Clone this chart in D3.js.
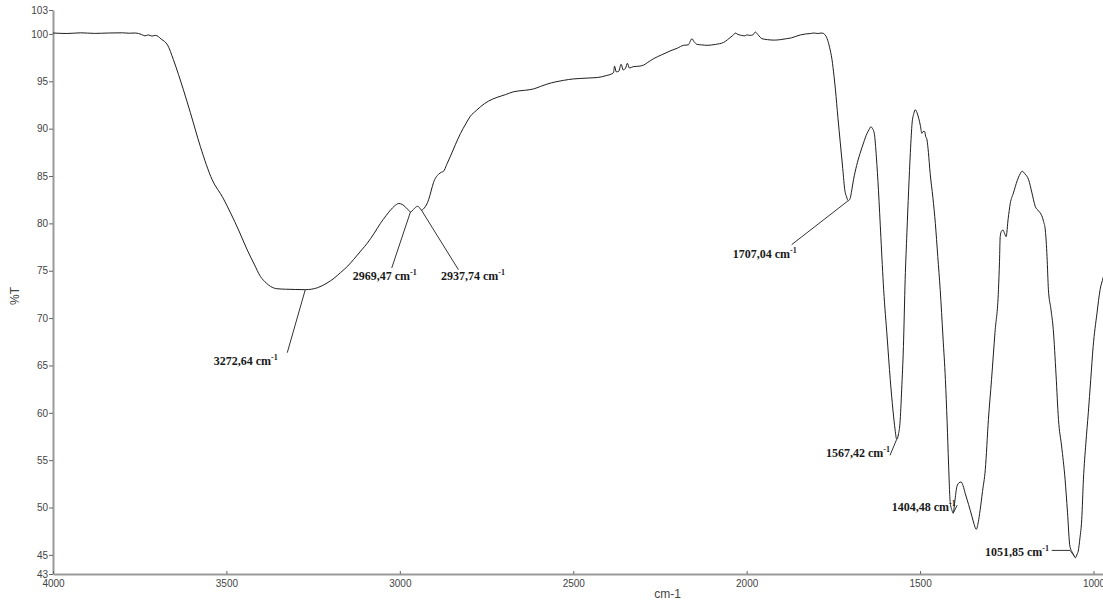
<!DOCTYPE html>
<html>
<head>
<meta charset="utf-8">
<script src="https://cdn.jsdelivr.net/npm/d3@7"></script>
<style>
  html, body { margin: 0; padding: 0; background: #fff; }
  svg { display: block; }
  .tick text { font-family: "Liberation Sans", Arial, sans-serif; font-size: 10px; fill: #444; }
  .callout text { font-family: "Liberation Serif", "Times New Roman", serif; font-weight: bold; font-size: 12px; fill: #1a1a1a; }
</style>
</head>
<body>
<svg id="chart" width="1103" height="606"></svg>
<script>
// IR spectrum: wavenumber (cm-1) and transmittance (%T)
const wavenumber = [
  4000, 3960, 3920, 3880, 3840, 3800, 3780, 3762, 3745, 3735, 3725, 3715, 3705, 3696, 3688, 3678,
  3670, 3653, 3638, 3624, 3604, 3575, 3541, 3510, 3488, 3465, 3440, 3420, 3402, 3385, 3373, 3354,
  3330, 3300, 3272.64, 3255, 3238, 3210, 3190, 3171, 3150, 3133, 3110, 3094, 3075, 3056, 3040, 3027,
  3015, 3003, 2993, 2983, 2975, 2969.47, 2960, 2949, 2943, 2937.74, 2930, 2917, 2910, 2903, 2888, 2880,
  2874, 2865, 2854, 2840, 2825, 2810, 2797, 2780, 2768, 2745, 2720, 2695, 2672, 2640, 2614, 2595,
  2576, 2550, 2528, 2500, 2480, 2455, 2431, 2405, 2384, 2381, 2376, 2369, 2362, 2356, 2349, 2344,
  2338, 2327, 2310, 2298, 2285, 2268, 2245, 2221, 2200, 2182, 2168, 2163, 2158, 2152, 2143, 2130,
  2114, 2090, 2067, 2055, 2045, 2038, 2033, 2025, 2015, 2005, 2000, 1990, 1982, 1975, 1968, 1961,
  1956, 1940, 1920, 1903, 1885, 1870, 1858, 1845, 1830, 1815, 1807, 1795, 1783, 1775, 1768, 1761,
  1754, 1748, 1744, 1737, 1730, 1723, 1717, 1712, 1707.04, 1702, 1697, 1692, 1683, 1673, 1663, 1653,
  1647, 1642, 1637, 1632, 1626, 1620, 1613, 1605, 1595, 1586, 1578, 1572, 1567.42, 1562, 1558, 1553,
  1548, 1543, 1538, 1533, 1528, 1523, 1518, 1514, 1509, 1504, 1499, 1495, 1491, 1487, 1484, 1480,
  1476, 1471, 1463, 1456, 1449, 1442, 1434, 1427, 1422, 1418, 1413, 1408, 1404.48, 1400, 1394, 1388,
  1382, 1376, 1370, 1360, 1350, 1344, 1338, 1332, 1327, 1320, 1312, 1303, 1294, 1284, 1274, 1271,
  1269, 1265, 1261, 1256, 1252, 1246, 1240, 1231, 1220, 1212, 1206, 1197, 1187, 1178, 1168, 1158,
  1149, 1144, 1139, 1134, 1130, 1123, 1116, 1108, 1101, 1092, 1082, 1075, 1068, 1060, 1051.85, 1047,
  1044, 1039, 1034, 1029, 1022, 1015, 1008, 1001, 990, 981, 972, 965
];
const transmittance = [
  100.10, 100.05, 100.12, 100.06, 100.10, 100.12, 100.08, 100.10, 99.95, 99.80, 99.90, 99.78, 99.85, 99.72, 99.45, 99.20,
  98.85, 97.30, 95.70, 94.10, 91.70, 88.10, 84.60, 82.70, 81.10, 79.30, 77.20, 75.70, 74.40, 73.70, 73.35, 73.10,
  73.05, 73.02, 73.00, 73.05, 73.20, 73.70, 74.20, 74.80, 75.50, 76.20, 77.20, 77.90, 78.90, 80.00, 80.80, 81.40,
  81.85, 82.10, 82.00, 81.70, 81.40, 81.20, 81.50, 81.80, 81.65, 81.40, 81.60, 82.50, 83.40, 84.30, 85.20, 85.40,
  85.50, 86.20, 87.10, 88.30, 89.50, 90.50, 91.30, 91.90, 92.30, 92.90, 93.30, 93.60, 93.90, 94.05, 94.20, 94.45,
  94.70, 94.95, 95.10, 95.25, 95.30, 95.35, 95.40, 95.60, 95.90, 96.60, 96.00, 96.05, 96.80, 96.20, 96.40, 96.90,
  96.40, 96.55, 96.60, 96.70, 97.00, 97.40, 97.80, 98.20, 98.50, 98.80, 98.85, 99.20, 99.50, 99.20, 98.90, 98.85,
  98.80, 98.90, 99.10, 99.40, 99.70, 99.90, 100.10, 99.95, 99.85, 99.80, 99.90, 99.85, 99.90, 100.20, 99.95, 99.65,
  99.50, 99.40, 99.35, 99.40, 99.50, 99.60, 99.75, 99.90, 100.00, 100.05, 100.10, 100.05, 100.10, 99.95, 99.50, 98.60,
  97.30, 95.50, 94.10, 91.20, 88.50, 85.80, 83.50, 82.80, 82.40, 82.60, 83.50, 84.60, 86.10, 87.40, 88.50, 89.50,
  89.90, 90.20, 90.00, 89.50, 87.00, 83.50, 78.50, 73.00, 68.00, 63.50, 60.20, 58.20, 57.20, 57.80, 58.90, 62.50,
  67.00, 74.10, 79.00, 83.50, 87.50, 90.60, 91.60, 92.00, 91.70, 91.10, 90.30, 89.50, 89.70, 89.70, 89.20, 88.80,
  87.50, 85.30, 82.70, 80.00, 76.50, 73.00, 68.00, 63.50, 59.00, 54.70, 50.50, 49.70, 49.40, 50.60, 52.20, 52.60,
  52.70, 52.30, 51.50, 50.30, 49.00, 48.20, 47.70, 48.50, 49.70, 51.70, 54.00, 59.30, 63.50, 68.50, 73.00, 76.00,
  78.60, 79.20, 79.30, 78.90, 78.60, 80.50, 82.10, 83.20, 84.50, 85.20, 85.50, 85.20, 84.60, 83.30, 81.80, 81.30,
  80.80, 80.20, 79.30, 76.50, 73.00, 71.00, 68.80, 64.00, 59.30, 56.50, 53.00, 49.50, 45.90, 45.20, 44.70, 45.10,
  45.40, 46.80, 48.70, 53.00, 56.80, 60.00, 63.50, 67.00, 70.50, 73.00, 74.30, 75.50
];

// Axis extents and ticks
const xDomain = [4000, 970];
const xTicks = [4000, 3500, 3000, 2500, 2000, 1500, 1000];
const yDomain = [42.98, 102.53];
const yTicks = [45, 50, 55, 60, 65, 70, 75, 80, 85, 90, 95, 100];
const xTitle = "cm-1";
const yTitle = "%T";

// Annotated band positions (cm-1)
const peakWavenumbers = [3272.64, 2969.47, 2937.74, 1707.04, 1567.42, 1404.48, 1051.85];

// Leader-line and label placement for each annotated band, in pixels from the band point
const calloutLayout = [
  { leader: [[-18, 63]],            text: [-91.5, 75.6] },
  { leader: [[-18.7, 56]],          text: [-57.7, 67.7] },
  { leader: [[37, 59.6]],           text: [19.6, 69.6] },
  { leader: [[-56.6, 44]],          text: [-115.6, 57.4] },
  { leader: [[-6.7, 16]],           text: [-70.7, 17.2] },
  { leader: [[4, -8]],              text: [-61.5, -2.2] },
  { leader: [[-5.5, -7.3], [-23.8, -7.3]], text: [-90.5, -1.6] }
];

const svg = d3.select("#chart");
const W = 1103, H = 606;

const x = d3.scaleLinear().domain(xDomain)
  .range([53, 53 + (xDomain[0] - xDomain[1]) * (1040.5 / 3000)]);
const y = d3.scaleLinear().domain(yDomain).range([574, 10]);

const data = wavenumber.map((w, i) => ({ w, t: transmittance[i] }));

// Axes
const yAxis = d3.axisLeft(y)
  .tickValues([yDomain[0], ...yTicks, yDomain[1]])
  .tickFormat(d3.format(".0f"))
  .tickSizeInner(4).tickSizeOuter(0).tickPadding(1);

const xAxis = d3.axisBottom(x)
  .tickValues(xTicks)
  .tickFormat(d3.format("d"))
  .tickSizeInner(-3).tickSizeOuter(0).tickPadding(6);

const gy = svg.append("g").attr("transform", "translate(53,0)").call(yAxis);
const gx = svg.append("g").attr("transform", "translate(0,574)").call(xAxis);

[gx, gy].forEach(g => {
  g.select(".domain").attr("stroke", "#9a9a9a").attr("stroke-width", 2);
  g.selectAll(".tick line").attr("stroke", "#666").attr("stroke-width", 1);
});

// Axis titles
svg.append("text")
  .attr("x", x(2000) - 79).attr("y", 598)
  .attr("font-family", "Liberation Sans, Arial, sans-serif")
  .attr("font-size", 12).attr("fill", "#444")
  .attr("text-anchor", "middle")
  .text(xTitle);

svg.append("text")
  .attr("transform", "translate(19,296) rotate(-90)")
  .attr("font-family", "Liberation Sans, Arial, sans-serif")
  .attr("font-size", 12).attr("fill", "#444")
  .attr("text-anchor", "middle")
  .text(yTitle);

// Spectrum trace
svg.append("clipPath").attr("id", "plot-clip")
  .append("rect").attr("x", 53).attr("y", 0).attr("width", W - 53).attr("height", 574);

const line = d3.line()
  .x(d => x(d.w))
  .y(d => y(d.t))
  .curve(d3.curveMonotoneX);

svg.append("path")
  .datum(data)
  .attr("clip-path", "url(#plot-clip)")
  .attr("fill", "none")
  .attr("stroke", "#1e1e1e")
  .attr("stroke-width", 1)
  .attr("stroke-linejoin", "round")
  .attr("d", line);

// Band callouts
const fmtBand = v => d3.format(".2f")(v).replace(".", ",");
const callouts = svg.append("g").attr("class", "callout");

peakWavenumbers.forEach((w, i) => {
  const idx = wavenumber.indexOf(w);
  const px = x(w), py = y(transmittance[idx]);
  const lay = calloutLayout[i];
  const pts = [[px, py], ...lay.leader.map(([dx, dy]) => [px + dx, py + dy])];
  callouts.append("path")
    .attr("d", d3.line()(pts))
    .attr("fill", "none")
    .attr("stroke", "#333")
    .attr("stroke-width", 1);
  const t = callouts.append("text")
    .attr("x", px + lay.text[0])
    .attr("y", py + lay.text[1]);
  t.append("tspan").text(fmtBand(w) + " cm");
  t.append("tspan").attr("font-size", 8).attr("dy", -5).text("-1");
});
</script>
</body>
</html>
